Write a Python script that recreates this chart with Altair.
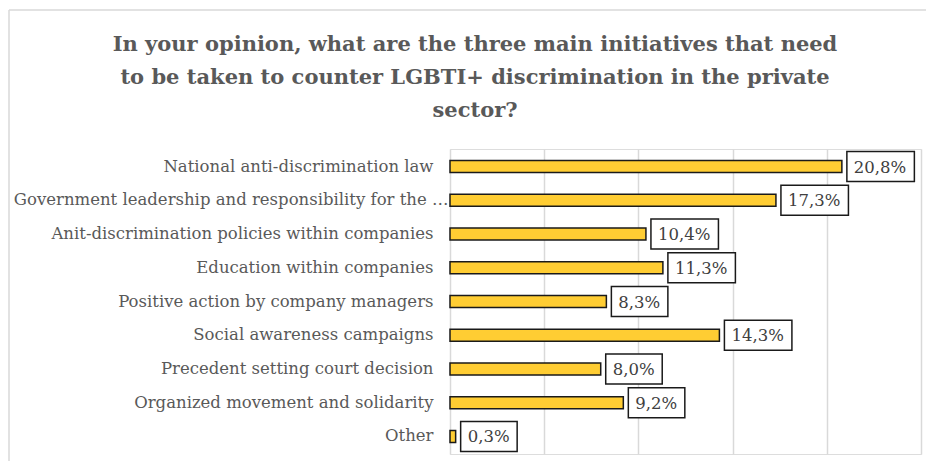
import altair as alt
import pandas as pd

categories = [
    "National anti-discrimination law",
    "Government leadership and responsibility for the …",
    "Anit-discrimination policies within companies",
    "Education within companies",
    "Positive action by company managers",
    "Social awareness campaigns",
    "Precedent setting court decision",
    "Organized movement and solidarity",
    "Other",
]
values = [20.8, 17.3, 10.4, 11.3, 8.3, 14.3, 8.0, 9.2, 0.3]
labels = [f"{v:.1f}".replace(".", ",") + "%" for v in values]
grid_values = [0, 5, 10, 15, 20, 25]

title_lines = [
    "In your opinion, what are the three main initiatives that need",
    "to be taken to counter LGBTI+ discrimination in the private",
    "sector?",
]

df = pd.DataFrame({"category": categories, "value": values, "label": labels})

FONT = "DejaVu Serif"
GRAY = "#595959"

x_scale = alt.Scale(domain=[0, 25], nice=False, zero=True)
y_scale = alt.Scale(domain=categories, paddingInner=0, paddingOuter=0.02)

x_enc = alt.X(
    "value:Q",
    scale=x_scale,
    axis=alt.Axis(
        values=grid_values,
        labels=False,
        ticks=False,
        domain=False,
        grid=True,
        gridColor="#d9d9d9",
        gridWidth=1.5,
        title=None,
    ),
)
y_enc = alt.Y(
    "category:N",
    scale=y_scale,
    sort=categories,
    axis=alt.Axis(
        title=None,
        ticks=False,
        domain=False,
        labelFont=FONT,
        labelFontSize=16.5,
        labelColor=GRAY,
        labelPadding={
            "condition": {"test": "indexof(datum.value, 'Government') == 0", "value": 2},
            "value": 17,
        },
        labelLimit=500,
    ),
)

base = alt.Chart(df)
y_plain = alt.Y("category:N", scale=y_scale, sort=categories)
x_plain = alt.X("value:Q", scale=x_scale)

bars = base.mark_bar(
    size=12, color="#FFCD33", stroke="#1a1a1a", strokeWidth=1.5
).encode(x=x_enc, y=y_enc)

box5 = (
    base.transform_filter("length(datum.label) == 5")
    .mark_bar(size=30, fill="white", stroke="#1a1a1a", strokeWidth=1.5,
              xOffset=5, x2Offset=72.5)
    .encode(x=x_plain, x2="value:Q", y=y_plain)
)
box4 = (
    base.transform_filter("length(datum.label) == 4")
    .mark_bar(size=30, fill="white", stroke="#1a1a1a", strokeWidth=1.5,
              xOffset=5, x2Offset=61.5)
    .encode(x=x_plain, x2="value:Q", y=y_plain)
)

text = base.mark_text(
    align="left", baseline="middle", dx=12, dy=1, font=FONT, fontSize=16.5, color="#404040"
).encode(x=x_plain, y=y_plain, text="label:N")

frame_data = alt.Data(values=[{"k": 1}])
frame_left = alt.Chart(frame_data).mark_rule(color="#d9d9d9", strokeWidth=1.5).encode(
    x=alt.value(-441), y=alt.value(-139), y2=alt.value(320)
)
frame_top = alt.Chart(frame_data).mark_rule(color="#d9d9d9", strokeWidth=1.5).encode(
    x=alt.value(-441), x2=alt.value(490), y=alt.value(-139)
)

chart = (
    alt.layer(frame_left, frame_top, bars, box5, box4, text)
    .properties(
        width=471,
        height=305,
        autosize="none",
        padding={"left": 442, "top": 141, "right": 5, "bottom": 7},
        title=alt.TitleParams(
            text=title_lines,
            font=FONT,
            fontSize=21,
            fontWeight="bold",
            color=GRAY,
            anchor="middle",
            frame="group",
            dx=-210.5,
            lineHeight=33,
            offset=0,
            dy=112,
        ),
    )
    .configure_view(stroke=None)
    .configure(background="white")
)

chart.save("out.html", embed_options={"renderer": "svg", "actions": False})
